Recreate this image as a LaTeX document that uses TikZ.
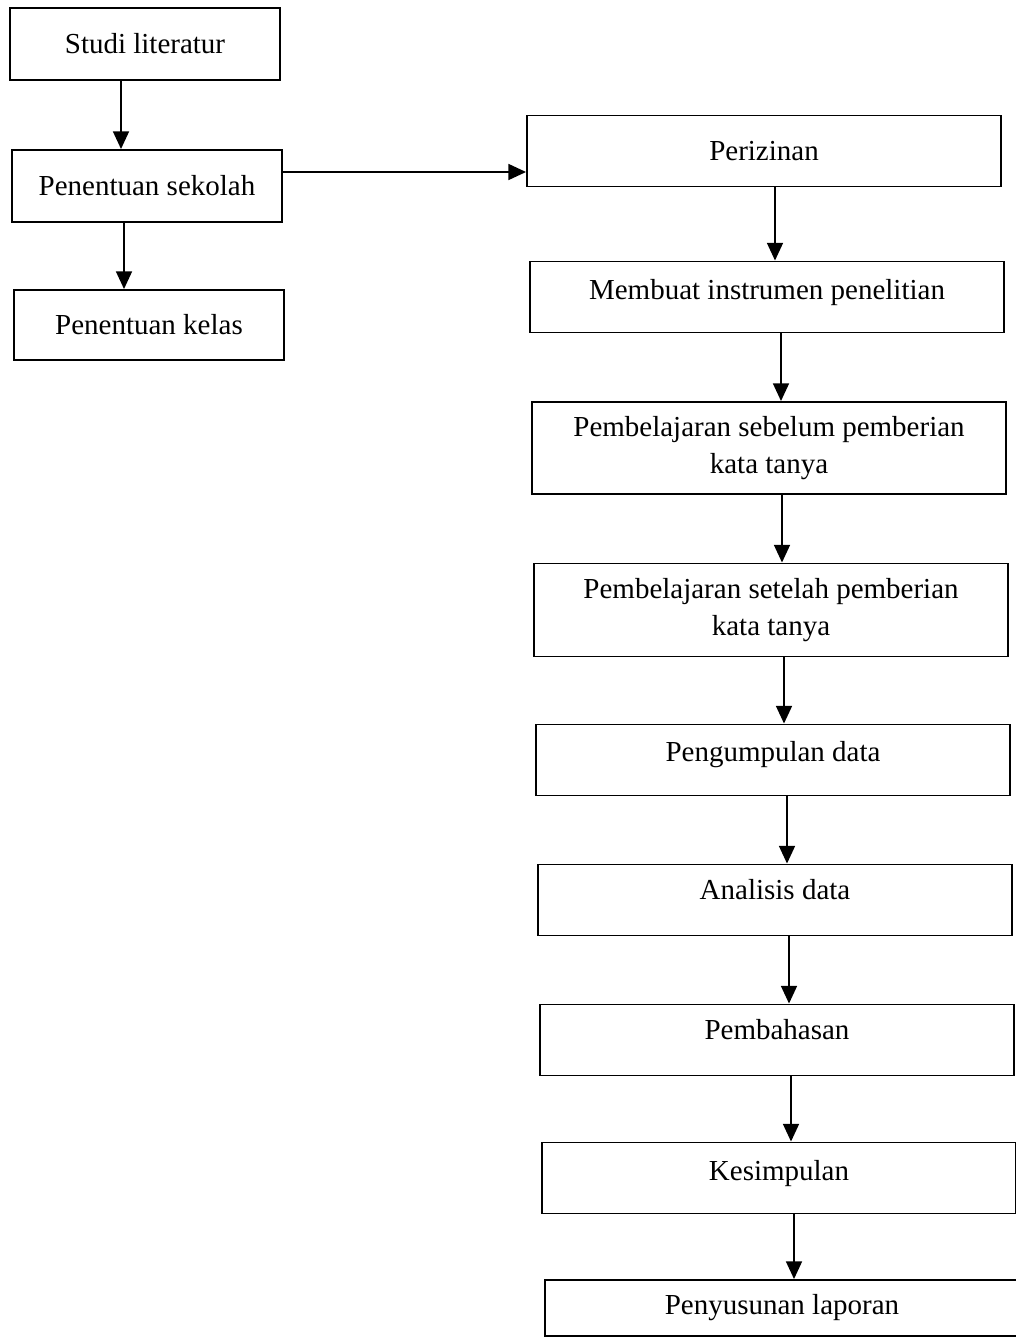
\documentclass[tikz,border=0pt]{standalone}
\usepackage{fontspec}
\setmainfont{Liberation Serif}
\usetikzlibrary{arrows.meta}
\tikzset{
  kotak/.style={draw, line width=1.1pt, align=center, inner sep=0pt,
    font=\fontsize{16.5}{21}\selectfont},
  kiri/.style={kotak, minimum width=270*0.02cm, minimum height=72*0.02cm},
  kanan/.style={kotak, minimum width=474*0.02cm, minimum height=71*0.02cm},
  naik/.style={text depth=#1},
  panah/.style={line width=1.1pt, -{Triangle[length=10pt, width=9pt]}}
}
\begin{document}
\begin{tikzpicture}[x=0.02cm, y=-0.02cm]
        \useasboundingbox (0, 0) rectangle (1016, 1341);

        \node[kiri] (studi) at (145, 44) {Studi literatur};
        \node[kiri] (sekolah) at (147, 186) {Penentuan sekolah};
        \node[kiri, minimum height=70*0.02cm] (kelas) at (149, 325) {Penentuan kelas};

        \node[kanan] (izin) at (764, 151) {Perizinan};
        \node[kanan, naik=9pt] (instrumen) at (767, 297) {Membuat instrumen penelitian};
        \node[kanan, minimum height=92*0.02cm] (sebelum) at (769, 448) {Pembelajaran sebelum pemberian\\kata tanya};
        \node[kanan, minimum height=93*0.02cm] (setelah) at (771, 610) {Pembelajaran setelah pemberian\\kata tanya};
        \node[kanan, naik=10pt] (kumpul) at (773, 760) {Pengumpulan data};
        \node[kanan, naik=12pt] (analisis) at (775, 900) {Analisis data};
        \node[kanan, naik=12pt] (bahas) at (777, 1040) {Pembahasan};
        \node[kanan, naik=9pt] (simpul) at (779, 1178) {Kesimpulan};
        \node[kanan, minimum height=56*0.02cm] (laporan) at (782, 1308) {Penyusunan laporan};

        \draw[panah] (studi.south -| 121, 0) -- (sekolah.north -| 121, 0);
        \draw[panah] (sekolah.south -| 124, 0) -- (kelas.north -| 124, 0);
        \draw[panah] (sekolah.east |- 0, 172) -- (izin.west |- 0, 172);

        \draw[panah] (izin.south -| 775, 0) -- (instrumen.north -| 775, 0);
        \draw[panah] (instrumen.south -| 781, 0) -- (sebelum.north -| 781, 0);
        \draw[panah] (sebelum.south -| 782, 0) -- (setelah.north -| 782, 0);
        \draw[panah] (setelah.south -| 784, 0) -- (kumpul.north -| 784, 0);
        \draw[panah] (kumpul.south -| 787, 0) -- (analisis.north -| 787, 0);
        \draw[panah] (analisis.south -| 789, 0) -- (bahas.north -| 789, 0);
        \draw[panah] (bahas.south -| 791, 0) -- (simpul.north -| 791, 0);
        \draw[panah] (simpul.south -| 794, 0) -- (laporan.north -| 794, 0);
    \end{tikzpicture}
\end{document}
